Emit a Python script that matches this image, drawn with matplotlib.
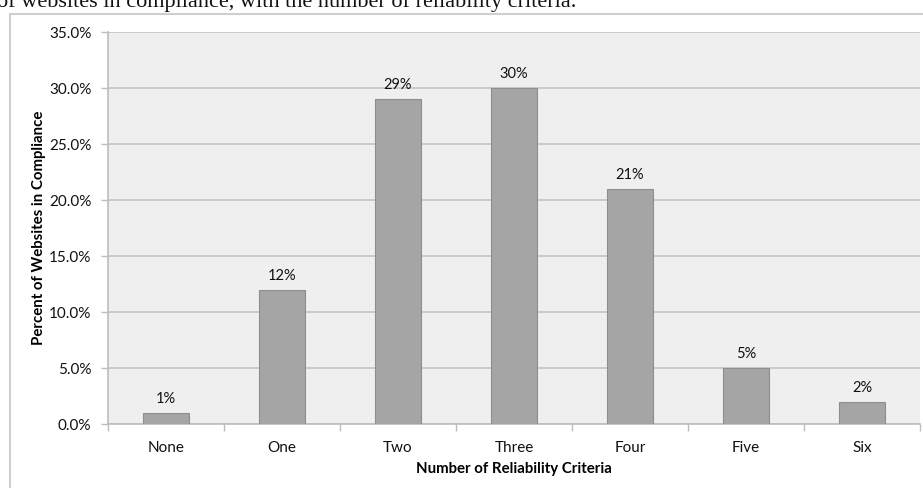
import matplotlib
matplotlib.use("Agg")
import matplotlib.pyplot as plt
from matplotlib.patches import Rectangle
from matplotlib.ticker import FuncFormatter, FixedLocator, NullFormatter

categories = ["None", "One", "Two", "Three", "Four", "Five", "Six"]
percents = [1, 12, 29, 30, 21, 5, 2]
y_ticks = [0, 5, 10, 15, 20, 25, 30, 35]

plt.rcParams["font.family"] = ["Lato", "DejaVu Sans"]

W, H = 923, 488
fig = plt.figure(figsize=(W / 100, H / 100), dpi=100)

# caption text running above the chart
fig.text(-3 / W, 1 - 7 / H, "of websites in compliance, with the number of reliability criteria.",
         family="Liberation Serif", fontsize=16, ha="left", va="baseline", color="#111111")

# chart frame
fig.patches.append(Rectangle((10 / W, -0.1), 1.0, 1 - 14 / H + 0.1, transform=fig.transFigure,
                             fill=False, edgecolor="#cfcfcf", linewidth=1.5))

left, right, top, bottom = 108, 920, 32, 424
ax = fig.add_axes([left / W, 1 - bottom / H, (right - left) / W, (bottom - top) / H])
ax.set_facecolor("#efefef")

x = list(range(len(categories)))
ax.bar(x, percents, width=0.4, color="#a5a5a5", edgecolor="#8e8e8e", linewidth=0.8, zorder=3)
for xi, v in zip(x, percents):
    ax.annotate(f"{v}%", (xi, v), xytext=(0, 5), textcoords="offset points",
                ha="center", va="bottom", fontsize=10.5, color="#111111")

ax.set_xlim(-0.5, len(categories) - 0.5)
ax.set_ylim(0, 35)
ax.set_yticks(y_ticks)
ax.yaxis.set_major_formatter(FuncFormatter(lambda v, p: f"{v:.1f}%"))
ax.yaxis.grid(True, color="#c4c4c4", linewidth=1.2, zorder=0)
ax.set_axisbelow(True)

ax.set_xticks(x)
ax.set_xticklabels(categories)
ax.tick_params(axis="x", which="major", length=0, pad=12, labelsize=11, labelcolor="#111111")
ax.xaxis.set_minor_locator(FixedLocator([i - 0.5 for i in range(len(categories) + 1)]))
ax.xaxis.set_minor_formatter(NullFormatter())
ax.tick_params(axis="x", which="minor", length=5, color="#bdbdbd", width=1)
ax.tick_params(axis="y", length=5, color="#bdbdbd", width=1, pad=7, labelsize=11, labelcolor="#111111")

for side in ("top", "right"):
    ax.spines[side].set_visible(False)
for side in ("left", "bottom"):
    ax.spines[side].set_color("#bdbdbd")
    ax.spines[side].set_linewidth(1.2)

ax.set_xlabel("Number of Reliability Criteria", fontsize=10.8, fontweight="bold", labelpad=5)
ax.set_ylabel("Percent of Websites in Compliance", fontsize=10.8, fontweight="bold", labelpad=2)

fig.savefig("out.png", dpi=100)
